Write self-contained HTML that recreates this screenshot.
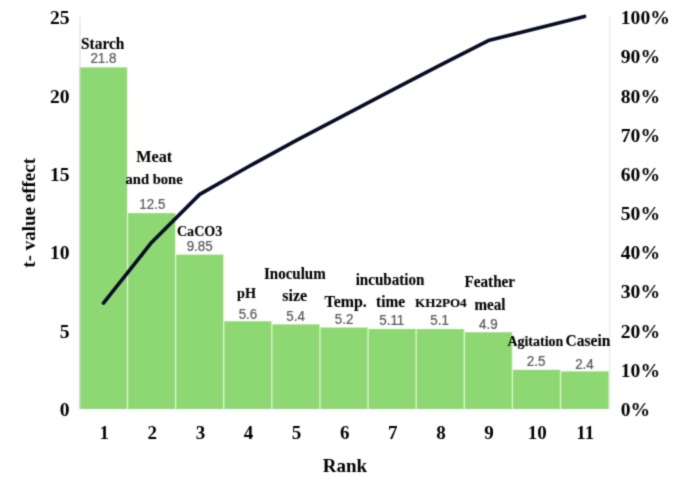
<!DOCTYPE html>
<html><head><meta charset="utf-8"><style>
html,body{margin:0;padding:0;background:#fff;}
svg{display:block;will-change:transform;}
#w{width:685px;height:481px;}
text{font-family:"Liberation Serif",serif;}
.b{font-weight:bold;fill:#000;stroke:#000;stroke-width:0.12px;text-anchor:middle;}
.v{font-family:"Liberation Sans",sans-serif;font-size:15.2px;fill:#595959;stroke:#595959;stroke-width:0.25px;text-anchor:middle;}
.ax{font-weight:bold;font-size:19px;fill:#000;text-anchor:middle;}
.axn{font-weight:bold;font-size:19.6px;fill:#000;}
</style></head><body>
<div id="w"><svg width="685" height="481" viewBox="0 0 685 481">
<defs><filter id="soft" x="0" y="0" width="685" height="481" filterUnits="userSpaceOnUse" color-interpolation-filters="sRGB"><feConvolveMatrix order="3" kernelMatrix="1 4 1 4 16 4 1 4 1" edgeMode="duplicate" preserveAlpha="true"/></filter></defs>
<g filter="url(#soft)"><rect x="0" y="0" width="685" height="481" fill="#fff"/>
<rect x="79.40" y="67.39" width="48.11" height="341.61" fill="#8ed873"/>
<rect x="127.51" y="213.12" width="48.11" height="195.88" fill="#8ed873"/>
<rect x="175.62" y="254.65" width="48.11" height="154.35" fill="#8ed873"/>
<rect x="223.73" y="321.25" width="48.11" height="87.75" fill="#8ed873"/>
<rect x="271.84" y="324.38" width="48.11" height="84.62" fill="#8ed873"/>
<rect x="319.95" y="327.52" width="48.11" height="81.48" fill="#8ed873"/>
<rect x="368.06" y="328.93" width="48.11" height="80.07" fill="#8ed873"/>
<rect x="416.17" y="329.08" width="48.11" height="79.92" fill="#8ed873"/>
<rect x="464.28" y="332.22" width="48.11" height="76.78" fill="#8ed873"/>
<rect x="512.39" y="369.82" width="48.11" height="39.18" fill="#8ed873"/>
<rect x="560.50" y="371.39" width="48.11" height="37.61" fill="#8ed873"/>
<rect x="126.91" y="67.39" width="1.2" height="341.61" fill="#e6f5de"/>
<rect x="175.02" y="213.12" width="1.2" height="195.88" fill="#e6f5de"/>
<rect x="223.13" y="254.65" width="1.2" height="154.35" fill="#e6f5de"/>
<rect x="271.24" y="321.25" width="1.2" height="87.75" fill="#e6f5de"/>
<rect x="319.35" y="324.38" width="1.2" height="84.62" fill="#e6f5de"/>
<rect x="367.46" y="327.52" width="1.2" height="81.48" fill="#e6f5de"/>
<rect x="415.57" y="328.93" width="1.2" height="80.07" fill="#e6f5de"/>
<rect x="463.68" y="329.08" width="1.2" height="79.92" fill="#e6f5de"/>
<rect x="511.79" y="332.22" width="1.2" height="76.78" fill="#e6f5de"/>
<rect x="559.90" y="369.82" width="1.2" height="39.18" fill="#e6f5de"/>
<rect x="79.5" y="16.7" width="1" height="392.30" fill="#d9d9d9"/>
<rect x="609.3" y="16.7" width="1" height="392.30" fill="#e2e2e2"/>
<path d="M103.46,303.08 L151.56,242.49 L199.68,194.36 L247.78,166.95 L295.89,140.61 L344.00,115.36 L392.12,90.14 L440.23,65.08 L488.34,40.59 L536.45,28.55 L584.55,16.40" fill="none" stroke="#080d24" stroke-width="3.6" stroke-linejoin="round" stroke-linecap="round"/>
<text transform="translate(102.70,48.80) scale(1,1.06)" font-size="15.4" class="b">Starch</text>
<text transform="translate(154.25,162.00) scale(1,1.06)" font-size="16.2" class="b">Meat</text>
<text transform="translate(154.10,183.90) scale(1,1.06)" font-size="14.6" class="b">and bone</text>
<text transform="translate(199.65,235.80) scale(1,1.0)" font-size="14.1" class="b">CaCO3</text>
<text transform="translate(246.50,298.20) scale(1,1.06)" font-size="14.2" class="b">pH</text>
<text transform="translate(294.80,278.90) scale(1,1.06)" font-size="15.0" class="b">Inoculum</text>
<text transform="translate(294.70,301.10) scale(1,1.06)" font-size="16.0" class="b">size</text>
<text transform="translate(345.65,306.70) scale(1,1.06)" font-size="15.9" class="b">Temp.</text>
<text transform="translate(390.05,284.80) scale(1,1.06)" font-size="15.1" class="b">incubation</text>
<text transform="translate(390.65,307.00) scale(1,1.06)" font-size="15.4" class="b">time</text>
<text transform="translate(440.85,306.70) scale(1,1.0)" font-size="13.1" class="b">KH2PO4</text>
<text transform="translate(489.80,287.10) scale(1,1.06)" font-size="15.2" class="b">Feather</text>
<text transform="translate(490.05,309.70) scale(1,1.06)" font-size="15.1" class="b">meal</text>
<text transform="translate(535.35,345.60) scale(1,1.06)" font-size="14.0" class="b">Agitation</text>
<text transform="translate(587.95,346.20) scale(1,1.06)" font-size="15.5" class="b">Casein</text>
<text transform="translate(103.40,63.20) scale(0.88,1)" class="v">21.8</text>
<text transform="translate(152.30,208.50) scale(0.88,1)" class="v">12.5</text>
<text transform="translate(199.65,250.80) scale(0.88,1)" class="v">9.85</text>
<text transform="translate(247.95,318.60) scale(0.88,1)" class="v">5.6</text>
<text transform="translate(295.55,320.50) scale(0.88,1)" class="v">5.4</text>
<text transform="translate(344.10,324.20) scale(0.88,1)" class="v">5.2</text>
<text transform="translate(391.75,325.00) scale(0.88,1)" class="v">5.11</text>
<text transform="translate(439.65,325.00) scale(0.88,1)" class="v">5.1</text>
<text transform="translate(488.35,329.20) scale(0.88,1)" class="v">4.9</text>
<text transform="translate(536.15,365.70) scale(0.88,1)" class="v">2.5</text>
<text transform="translate(584.45,368.80) scale(0.88,1)" class="v">2.4</text>
<text x="69.6" y="416.00" class="axn" style="text-anchor:end">0</text>
<text x="69.6" y="337.65" class="axn" style="text-anchor:end">5</text>
<text x="69.6" y="259.30" class="axn" style="text-anchor:end">10</text>
<text x="69.6" y="180.95" class="axn" style="text-anchor:end">15</text>
<text x="69.6" y="102.60" class="axn" style="text-anchor:end">20</text>
<text x="69.6" y="24.25" class="axn" style="text-anchor:end">25</text>
<text x="620.8" y="416.00" class="axn" style="text-anchor:start">0%</text>
<text x="620.8" y="376.82" class="axn" style="text-anchor:start">10%</text>
<text x="620.8" y="337.65" class="axn" style="text-anchor:start">20%</text>
<text x="620.8" y="298.48" class="axn" style="text-anchor:start">30%</text>
<text x="620.8" y="259.30" class="axn" style="text-anchor:start">40%</text>
<text x="620.8" y="220.12" class="axn" style="text-anchor:start">50%</text>
<text x="620.8" y="180.95" class="axn" style="text-anchor:start">60%</text>
<text x="620.8" y="141.78" class="axn" style="text-anchor:start">70%</text>
<text x="620.8" y="102.60" class="axn" style="text-anchor:start">80%</text>
<text x="620.8" y="63.43" class="axn" style="text-anchor:start">90%</text>
<text x="620.8" y="24.25" class="axn" style="text-anchor:start">100%</text>
<text x="104.16" y="438.6" class="ax">1</text>
<text x="152.26" y="438.6" class="ax">2</text>
<text x="200.38" y="438.6" class="ax">3</text>
<text x="248.48" y="438.6" class="ax">4</text>
<text x="296.59" y="438.6" class="ax">5</text>
<text x="344.70" y="438.6" class="ax">6</text>
<text x="392.81" y="438.6" class="ax">7</text>
<text x="440.93" y="438.6" class="ax">8</text>
<text x="489.04" y="438.6" class="ax">9</text>
<text x="537.15" y="438.6" class="ax">10</text>
<text x="585.25" y="438.6" class="ax">11</text>
<text x="344.9" y="471.8" class="ax">Rank</text>
<text transform="translate(34.6,212.8) rotate(-90)" x="0" y="0" class="ax">t- value effect</text>
</g></svg></div>
</body></html>
